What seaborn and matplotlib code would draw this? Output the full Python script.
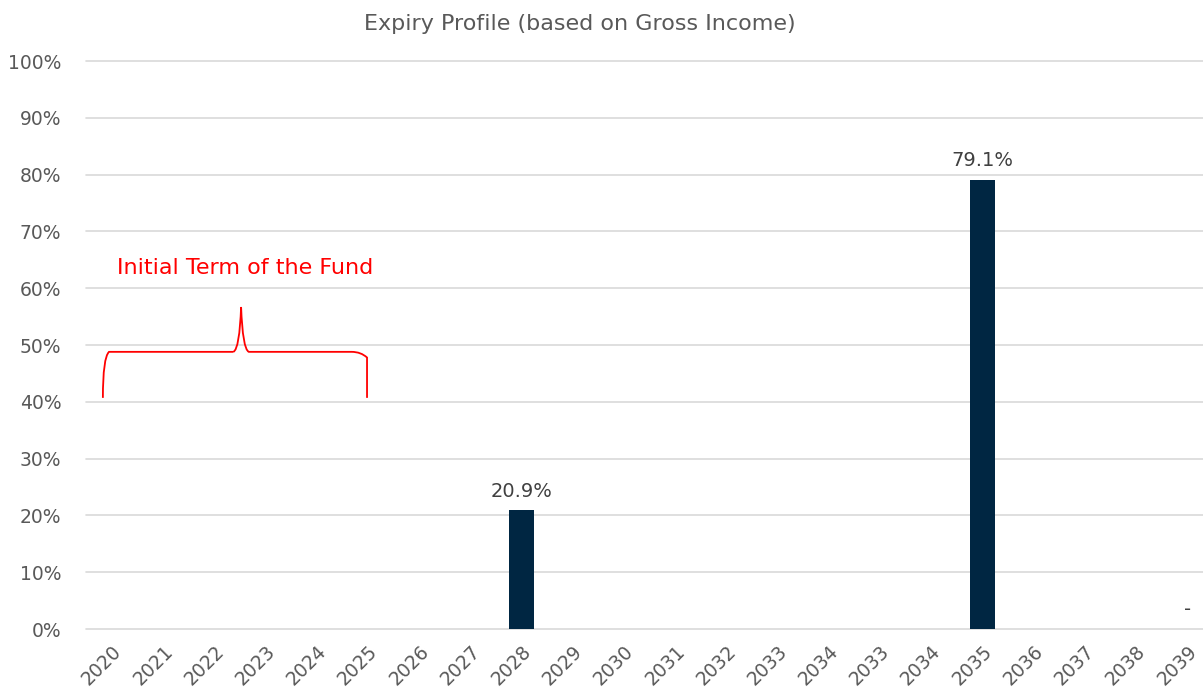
"""Expiry profile bar chart (share of gross income by lease expiry year)."""
import numpy as np
import pandas as pd
import matplotlib.pyplot as plt
from matplotlib.path import Path
from matplotlib.patches import PathPatch
import seaborn as sns

# data (axis labels kept as shown, duplicates included)
year_labels = ['2020', '2021', '2022', '2023', '2024', '2025', '2026', '2027',
               '2028', '2029', '2030', '2031', '2032', '2033', '2034', '2033',
               '2034', '2035', '2036', '2037', '2038', '2039']
income_share = [0, 0, 0, 0, 0, 0, 0, 0,
                0.209, 0, 0, 0, 0, 0, 0, 0,
                0, 0.791, 0, 0, 0, 0]
bar_labels = ['', '', '', '', '', '', '', '',
              '20.9%', '', '', '', '', '', '', '',
              '', '79.1%', '', '', '', '-']

title = 'Expiry Profile (based on Gross Income)'
note = 'Initial Term of the Fund'

NAVY = '#002642'
GREY_TXT = '#595959'
GRID = '#d9d9d9'

sns.set_theme(style='white')
plt.rcParams['font.family'] = ['DejaVu Sans']

df = pd.DataFrame({'slot': np.arange(len(year_labels)), 'share': income_share})

fig = plt.figure(figsize=(12.03, 6.92), dpi=100)
ax = fig.add_axes([0.0719, 0.0910, 0.9281, 0.8208])

sns.barplot(data=df, x='slot', y='share', color=NAVY, saturation=1,
            width=0.49, ax=ax, zorder=3, linewidth=0)

ax.bar_label(ax.containers[0], labels=bar_labels, padding=7,
             fontsize=14, color='#404040')

ax.set_ylim(0, 1)
ax.set_xlim(-0.5, 21.31)
ticks = np.arange(0, 1.01, 0.1)
ax.set_yticks(ticks)
ax.set_yticklabels([f'{int(round(v * 100))}%' for v in ticks])
ax.set_xticks(df['slot'])
ax.set_xticklabels(year_labels, rotation=45, ha='right', rotation_mode='anchor')
ax.tick_params(axis='y', labelsize=13.5, labelcolor=GREY_TXT, length=0, pad=18)
ax.tick_params(axis='x', labelsize=13.5, labelcolor=GREY_TXT, length=0, pad=9)
ax.yaxis.grid(True, color=GRID, linewidth=1.2, zorder=0)
for gl in ax.get_ygridlines():
    gl.set_clip_on(False)
ax.set_axisbelow(True)
for s in ax.spines.values():
    s.set_visible(False)
ax.set_xlabel('')
ax.set_ylabel('')

fig.text(0.482, 0.965, title, ha='center', va='center',
         fontsize=16, color=GREY_TXT)

# red curly brace marking the initial term (2020-2025)
xl, xr, xm = -0.18, 4.98, 2.52
yb, yh, yp = 0.407, 0.488, 0.567
verts = [(xl, yb), (xl, yh - 0.01), (xl + 0.12, yh), (xl + 0.3, yh),
         (xm - 0.15, yh), (xm - 0.15, yh), (xm - 0.03, yh + 0.005), (xm, yp),
         (xm, yp), (xm + 0.03, yh + 0.005), (xm + 0.15, yh),
         (xr - 0.3, yh), (xr - 0.12, yh), (xr, yh - 0.01), (xr, yb)]
codes = [Path.MOVETO, Path.CURVE3, Path.CURVE3, Path.LINETO,
         Path.LINETO, Path.MOVETO, Path.CURVE3, Path.CURVE3,
         Path.MOVETO, Path.CURVE3, Path.CURVE3,
         Path.LINETO, Path.CURVE3, Path.CURVE3, Path.LINETO]
ax.add_patch(PathPatch(Path(verts, codes), fill=False, edgecolor='red',
                       linewidth=1.3, zorder=4))
ax.text(2.6, 0.636, note, ha='center', va='center', fontsize=16, color='red')

plt.savefig('out.png', dpi=100)
plt.close(fig)
